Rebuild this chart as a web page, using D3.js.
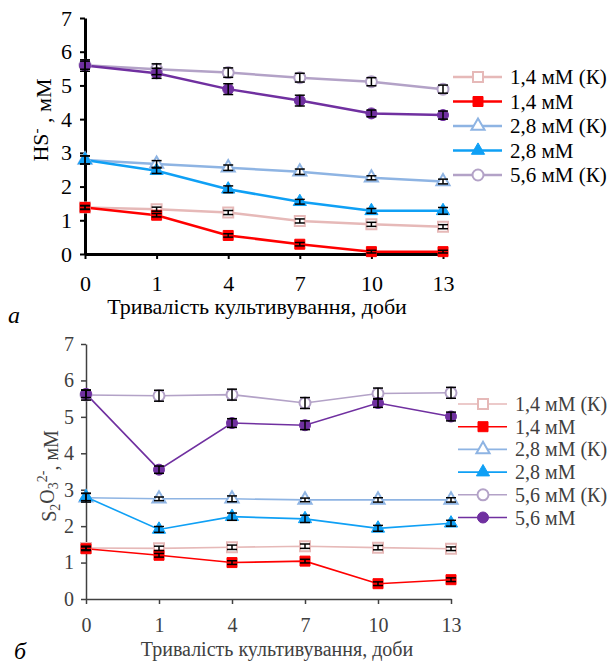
<!DOCTYPE html>
<html>
<head>
<meta charset="utf-8">
<script src="https://cdn.jsdelivr.net/npm/d3@7"></script>
<style>
  body { margin: 0; background: #fff; }
  svg { display: block; }
</style>
</head>
<body>
<svg id="chart" width="614" height="664" font-family="Liberation Serif"></svg>
<script>
// categories (days of cultivation)
const days = ['0', '1', '4', '7', '10', '13']
const yTicks = [0, 1, 2, 3, 4, 5, 6, 7]

// panel a: HS-
const hsK14 = [1.38, 1.33, 1.23, 0.98, 0.88, 0.81]
const hs14 = [1.38, 1.15, 0.55, 0.29, 0.07, 0.07]
const hsK28 = [2.79, 2.67, 2.56, 2.44, 2.26, 2.15]
const hs28 = [2.79, 2.47, 1.92, 1.55, 1.28, 1.28]
const hsK56 = [5.6, 5.48, 5.38, 5.23, 5.11, 4.89]
const hs56 = [5.59, 5.36, 4.89, 4.55, 4.17, 4.12]
const hsErrK14 = [0.06, 0.06, 0.06, 0.06, 0.06, 0.06]
const hsErr14 = [0.05, 0.05, 0.05, 0.05, 0.04, 0.04]
const hsErrK28 = [0.12, 0.1, 0.08, 0.08, 0.06, 0.07]
const hsErr28 = [0.12, 0.08, 0.1, 0.07, 0.07, 0.1]
const hsErrK56 = [0.12, 0.16, 0.14, 0.13, 0.12, 0.12]
const hsErr56 = [0.17, 0.15, 0.16, 0.16, 0.1, 0.12]

// panel b: S2O3 2-
const thK14 = [1.4, 1.39, 1.42, 1.45, 1.41, 1.38]
const th14 = [1.38, 1.2, 1.0, 1.04, 0.42, 0.53]
const thK28 = [2.78, 2.75, 2.75, 2.72, 2.72, 2.72]
const th28 = [2.8, 1.91, 2.26, 2.2, 1.94, 2.08]
const thK56 = [5.6, 5.58, 5.61, 5.38, 5.64, 5.66]
const th56 = [5.63, 3.55, 4.83, 4.77, 5.38, 5.01]
const thErrK14 = [0.05, 0.06, 0.06, 0.06, 0.06, 0.05]
const thErr14 = [0.05, 0.05, 0.05, 0.05, 0.05, 0.05]
const thErrK28 = [0.12, 0.05, 0.08, 0.05, 0.06, 0.06]
const thErr28 = [0.1, 0.08, 0.1, 0.1, 0.08, 0.08]
const thErrK56 = [0.14, 0.15, 0.15, 0.15, 0.15, 0.15]
const thErr56 = [0.1, 0.1, 0.12, 0.12, 0.12, 0.12]

const labels = ['1,4 мМ (К)', '1,4 мМ', '2,8 мМ (К)', '2,8 мМ', '5,6 мМ (К)', '5,6 мМ']
const colors = ['#e6b9b8', '#ff0000', '#8eb4e3', '#0fa0f5', '#b3a2c7', '#7030a0']
const shapes = ['square', 'square', 'triangle', 'triangle', 'circle', 'circle']
const filled = [false, true, false, true, false, true]

const FONT = 'Liberation Serif'
const svg = d3.select('#chart')

function symbolFor (i, k) {
    let type = shapes[i] === 'square' ? d3.symbolSquare : shapes[i] === 'triangle' ? d3.symbolTriangle : d3.symbolCircle
    let size = shapes[i] === 'square' ? 100 : shapes[i] === 'triangle' ? 75 : 95
    return d3.symbol().type(type).size(size * k)()
}

function drawPanel (cfg) {
    let g = svg.append('g')
    let x = d3.scalePoint().domain(days).range([cfg.x0, cfg.x1])
    let y = d3.scaleLinear().domain([0, 7]).range([cfg.yb, cfg.yt])

    let yAxis = g.append('g')
        .attr('transform', 'translate(' + cfg.x0 + ',0)')
        .call(d3.axisLeft(y).tickValues(yTicks).tickFormat(d3.format('d')).tickSize(5).tickSizeOuter(0).tickPadding(cfg.yPad))
    let xAxis = g.append('g')
        .attr('transform', 'translate(0,' + cfg.yb + ')')
        .call(d3.axisBottom(x).tickSize(5).tickSizeOuter(0).tickPadding(cfg.xPad))
    ;[yAxis, xAxis].forEach(a => {
        a.attr('font-family', FONT)
        a.select('.domain').attr('stroke', cfg.axisColor).attr('stroke-width', cfg.axisWidth)
        a.selectAll('.tick line').attr('stroke', cfg.axisColor).attr('stroke-width', cfg.tickWidth)
        a.selectAll('.tick text')
            .attr('font-family', FONT)
            .attr('font-size', cfg.font + 'px')
            .attr('fill', cfg.textColor)
    })

    let line = d3.line().x((d, i) => x(days[i])).y(d => y(d))
    cfg.series.forEach((s, k) => {
        g.append('path')
            .attr('d', line(s))
            .attr('fill', 'none')
            .attr('stroke', colors[k])
            .attr('stroke-width', cfg.lineWidth)
    })
    cfg.series.forEach((s, k) => {
        g.append('g').selectAll('path')
            .data(s)
            .enter()
            .append('path')
            .attr('d', symbolFor(k, cfg.markScale))
            .attr('transform', (d, i) => 'translate(' + x(days[i]) + ',' + y(d) + ')')
            .attr('fill', filled[k] ? colors[k] : '#fff')
            .attr('stroke', colors[k])
            .attr('stroke-width', filled[k] ? 1 : 2)
    })
    // error bars on top of markers
    cfg.series.forEach((s, k) => {
        let err = cfg.errors[k]
        let eb = g.append('g').selectAll('g')
            .data(s)
            .enter()
            .append('g')
            .attr('transform', (d, i) => 'translate(' + x(days[i]) + ',0)')
            .attr('stroke', '#000')
            .attr('stroke-width', 1.5)
        eb.append('line')
            .attr('x1', 0).attr('x2', 0)
            .attr('y1', (d, i) => y(d - err[i])).attr('y2', (d, i) => y(d + err[i]))
        eb.append('line')
            .attr('x1', -5).attr('x2', 5)
            .attr('y1', (d, i) => y(d + err[i])).attr('y2', (d, i) => y(d + err[i]))
        eb.append('line')
            .attr('x1', -5).attr('x2', 5)
            .attr('y1', (d, i) => y(d - err[i])).attr('y2', (d, i) => y(d - err[i]))
    })

    // legend
    let leg = g.append('g').selectAll('g')
        .data(d3.range(cfg.legendCount))
        .enter()
        .append('g')
        .attr('transform', k => 'translate(' + cfg.legX + ',' + (cfg.legY + k * cfg.legStep) + ')')
    leg.append('line')
        .attr('x1', 0).attr('x2', 49)
        .attr('stroke', k => colors[k])
        .attr('stroke-width', cfg.lineWidth)
    leg.append('path')
        .attr('d', k => symbolFor(k, cfg.markScale))
        .attr('transform', 'translate(25,0)')
        .attr('fill', k => filled[k] ? colors[k] : '#fff')
        .attr('stroke', k => colors[k])
        .attr('stroke-width', k => filled[k] ? 1 : 2)
    leg.append('text')
        .text(k => labels[k])
        .attr('x', 57)
        .attr('dy', '0.35em')
        .attr('font-family', FONT)
        .attr('font-size', cfg.legFont + 'px')
        .attr('fill', cfg.textColor)

    // axis titles
    g.append('text')
        .attr('x', cfg.xTitleX)
        .attr('y', cfg.xTitleY)
        .attr('text-anchor', 'middle')
        .attr('font-family', FONT)
        .attr('font-size', cfg.font + 'px')
        .attr('fill', cfg.textColor)
        .text('Тривалість культивування, доби')
    let yt = g.append('text')
        .attr('transform', 'translate(' + cfg.yTitleX + ',' + cfg.yTitleY + ') rotate(-90)')
        .attr('text-anchor', 'middle')
        .attr('font-family', FONT)
        .attr('font-size', cfg.font + 'px')
        .attr('fill', cfg.textColor)
    cfg.yTitle(yt)

    g.append('text')
        .attr('x', cfg.letterX)
        .attr('y', cfg.letterY)
        .attr('font-family', FONT)
        .attr('font-size', '24px')
        .attr('font-style', 'italic')
        .attr('fill', '#000')
        .text(cfg.letter)
}

drawPanel({
    x0: 85, x1: 443, yb: 254, yt: 18,
    yPad: 8, xPad: 16, font: 22, legFont: 21,
    axisColor: '#000', axisWidth: 3, tickWidth: 2, textColor: '#000',
    lineWidth: 2.5, markScale: 1,
    series: [hsK14, hs14, hsK28, hs28, hsK56, hs56],
    errors: [hsErrK14, hsErr14, hsErrK28, hsErr28, hsErrK56, hsErr56],
    legendCount: 5, legX: 453, legY: 77, legStep: 24.5,
    xTitleX: 257, xTitleY: 314,
    yTitleX: 48, yTitleY: 120,
    yTitle: t => {
        t.append('tspan').text('HS')
        t.append('tspan').attr('dy', '-0.45em').attr('font-size', '15px').text('-')
        t.append('tspan').attr('dy', '0.45em').text(' , мМ')
    },
    letter: 'а', letterX: 8, letterY: 323
})

drawPanel({
    x0: 86, x1: 451, yb: 599, yt: 344,
    yPad: 7, xPad: 14, font: 20, legFont: 20,
    axisColor: '#404040', axisWidth: 1.5, tickWidth: 1.5, textColor: '#404040',
    lineWidth: 1.6, markScale: 1,
    series: [thK14, th14, thK28, th28, thK56, th56],
    errors: [thErrK14, thErr14, thErrK28, thErr28, thErrK56, thErr56],
    legendCount: 6, legX: 458, legY: 404, legStep: 22.7,
    xTitleX: 277, xTitleY: 656,
    yTitleX: 56, yTitleY: 476,
    yTitle: t => {
        t.append('tspan').text('S')
        t.append('tspan').attr('dy', '0.3em').attr('font-size', '14px').text('2')
        t.append('tspan').attr('dy', '-0.3em').text('O')
        t.append('tspan').attr('dy', '0.3em').attr('font-size', '14px').text('3')
        t.append('tspan').attr('dy', '-0.85em').attr('font-size', '14px').text('2-')
        t.append('tspan').attr('dy', '0.55em').text(', мМ')
    },
    letter: 'б', letterX: 14, letterY: 659
})
</script>
</body>
</html>
